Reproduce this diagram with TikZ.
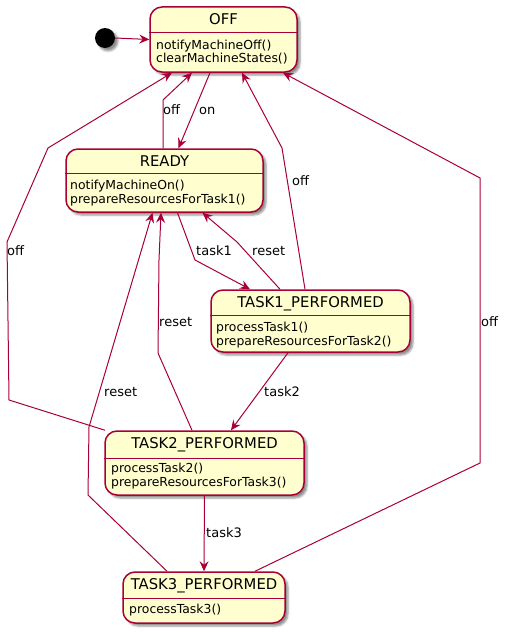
\documentclass[tikz,border=0pt]{standalone}
\usepackage{fontspec}
\setmainfont{DejaVu Sans}
\usetikzlibrary{arrows.meta,shadows.blur}
\definecolor{stfill}{HTML}{FEFECE}
\definecolor{stline}{HTML}{A80036}
\tikzset{
    state/.style =  {rectangle,
                    rounded corners=12pt,
                    fill=stfill,
                    draw=stline,
                    line width=1.5pt,
                    inner sep=0pt,
                    blur shadow={shadow xshift=3pt,
                                 shadow yshift=-3pt,
                                 shadow blur radius=2pt,
                                 shadow opacity=45}},
    init/.style =   {circle,
                    fill=black,
                    minimum size=20pt,
                    inner sep=0pt,
                    blur shadow={shadow xshift=3pt,
                                 shadow yshift=-3pt,
                                 shadow blur radius=2pt,
                                 shadow opacity=45}},
    title/.style =  {font=\fontsize{14.8}{17}\selectfont,
                    text=black,
                    anchor=base,
                    inner sep=0pt},
    body/.style =   {font=\fontsize{12.4}{14}\selectfont,
                    text=black,
                    anchor=base west,
                    inner sep=0pt},
    lbl/.style =    {font=\fontsize{13}{15}\selectfont,
                    text=black,
                    anchor=base west,
                    inner sep=0pt},
    sep/.style =    {draw=stline, line width=1pt},
    tr/.style =     {draw=stline,
                    line width=1pt,
                    -{Stealth[length=10pt,width=9pt,inset=3.5pt]}}}

\begin{document}
\begin{tikzpicture}[x=1pt,y=-1pt]
    \useasboundingbox (0,0) rectangle (506,634);
    % states
    \node[init]                                         (I)  at (105,38)    {};
    \node[state,minimum width=147pt,minimum height=65pt] (off) at (223.5,39.5) {};
    \node[state,minimum width=197pt,minimum height=63pt] (ready) at (164.5,180.5) {};
    \node[state,minimum width=199pt,minimum height=62pt] (t1) at (310.5,321) {};
    \node[state,minimum width=199pt,minimum height=64pt] (t2) at (204.5,463) {};
    \node[state,minimum width=162pt,minimum height=51pt] (t3) at (204,597.5) {};
    % titles and bodies
    \node[title] (offT)   at (223.5,25)  {OFF};
    \draw[sep] (off.west |- 0,33) -- (off.east |- 0,33);
    \node[body]  (offA)   at (156,49)    {notifyMachineOff()};
    \node[body]  (offB)   at (156,63)    {clearMachineStates()};
    \node[title] (readyT) at (164.5,166) {READY};
    \draw[sep] (ready.west |- 0,173) -- (ready.east |- 0,173);
    \node[body]  (readyA) at (70,189)    {notifyMachineOn()};
    \node[body]  (readyB) at (70,203)    {prepareResourcesForTask1()};
    \node[title] (t1T)    at (310.5,307) {TASK1\_PERFORMED};
    \draw[sep] (t1.west |- 0,315) -- (t1.east |- 0,315);
    \node[body]  (t1A)    at (216,331)   {processTask1()};
    \node[body]  (t1B)    at (216,345)   {prepareResourcesForTask2()};
    \node[title] (t2T)    at (204.5,448) {TASK2\_PERFORMED};
    \draw[sep] (t2.west |- 0,458) -- (t2.east |- 0,458);
    \node[body]  (t2A)    at (111,472)   {processTask2()};
    \node[body]  (t2B)    at (111,486)   {prepareResourcesForTask3()};
    \node[title] (t3T)    at (204,589)   {TASK3\_PERFORMED};
    \draw[sep] (t3.west |- 0,598) -- (t3.east |- 0,598);
    \node[body]  (t3A)    at (129,613)   {processTask3()};
    % transitions
    \draw[tr] (I.east) -- (off.west);
    \draw[tr] ([xshift=-13.5pt]off.south) -- ([xshift=14pt]ready.north);
    \draw[tr] ([xshift=-1.5pt]ready.north) -- (163,100) -- ([xshift=-31.5pt]off.south);
    \draw[tr] ([xshift=-5.5pt]t1.north) -- (282,148) -- ([xshift=18.5pt]off.south);
    \draw[tr] ([xshift=51pt]t3.north) -- (480,463) -- (480,178) -- ([xshift=59.5pt]off.south);
    \draw[tr] ([xshift=-99.5pt]t2.north) -- (9,400) -- (7,242) -- (48,148) -- ([xshift=-51.5pt]off.south);
    \draw[tr] ([xshift=13pt]ready.south) -- (195,260) -- ([xshift=-60.5pt]t1.north);
    \draw[tr] ([xshift=-30.5pt]t1.north) -- (237,242) -- ([xshift=38pt]ready.south);
    \draw[tr] ([xshift=-22.5pt]t1.south) -- ([xshift=26.5pt]t2.north);
    \draw[tr] ([xshift=-12.5pt]t2.north) -- (158,353) -- (159,260) -- ([xshift=-3.5pt]ready.south);
    \draw[tr] ([xshift=-37pt]t3.north) -- (88,495) -- (89,427) -- ([xshift=-12pt]ready.south);
    \draw[tr] (t2.south) -- (t3.north);
    % labels
    \node[lbl] (lOn)    at (199,114) {on};
    \node[lbl] (lOffR)  at (163,114) {off};
    \node[lbl] (lOff1)  at (292,185) {off};
    \node[lbl] (lOff3)  at (481,326) {off};
    \node[lbl] (lOff2)  at (7,255)   {off};
    \node[lbl] (lTask1) at (196,255) {task1};
    \node[lbl] (lRes1)  at (252,255) {reset};
    \node[lbl] (lTask2) at (264,396) {task2};
    \node[lbl] (lRes2)  at (159,326) {reset};
    \node[lbl] (lRes3)  at (104,396) {reset};
    \node[lbl] (lTask3) at (206,537) {task3};
\end{tikzpicture}
\end{document}
